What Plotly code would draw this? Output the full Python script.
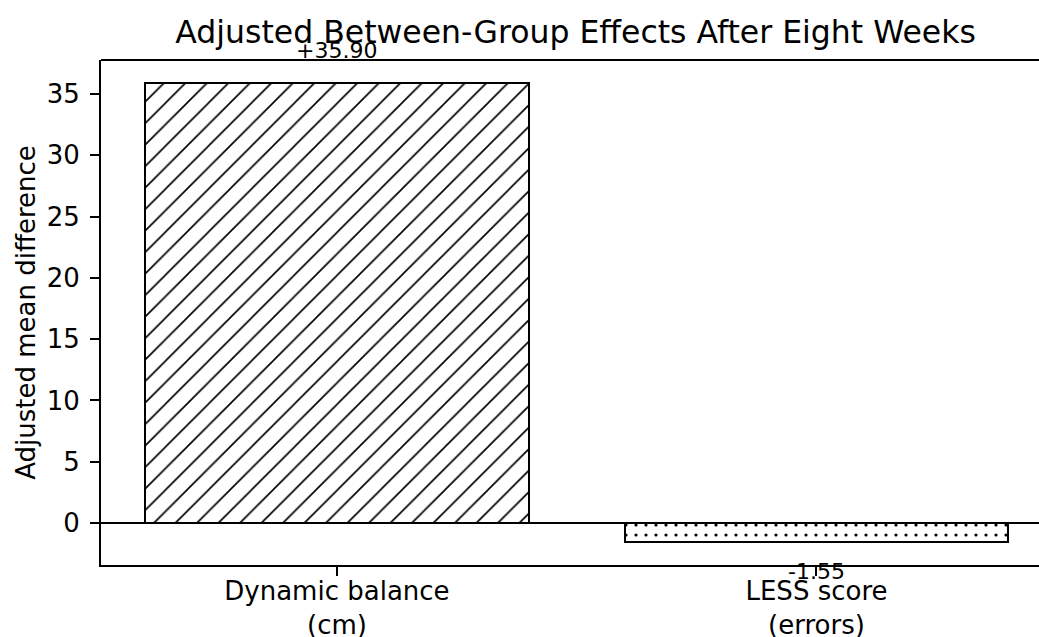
import plotly.graph_objects as go

# ---- data ----
categories = ["Dynamic balance<br>(cm)", "LESS score<br>(errors)"]
values = [35.90, -1.55]
value_labels = ["+35.90", "-1.55"]
hatches = ["/", "."]
y_ticks = [0, 5, 10, 15, 20, 25, 30, 35]
title_text = "Adjusted Between-Group Effects After Eight Weeks"
y_title = "Adjusted mean difference"

FONT = "DejaVu Sans"
x_pos = list(range(len(categories)))

fig = go.Figure()
for i, (v, h) in enumerate(zip(values, hatches)):
    fig.add_trace(go.Bar(
        x=[x_pos[i]], y=[v], width=0.8,
        marker=dict(
            color="white",
            line=dict(color="black", width=2),
            pattern=dict(shape=h, fgcolor="black", bgcolor="white", fgopacity=1,
                         fillmode="replace",
                         size=15.2 if h == "/" else 10,
                         solidity=0.11 if h == "/" else 0.08),
        ),
        showlegend=False, hoverinfo="skip",
    ))

# value labels anchored at each bar's end, shifted in pixels
for i, (v, t) in enumerate(zip(values, value_labels)):
    fig.add_annotation(x=x_pos[i], y=v, text=t, showarrow=False,
                       xanchor="center", yanchor="middle",
                       yshift=32 if v >= 0 else -29,
                       font=dict(family=FONT, size=22, color="black"))

# top spine
fig.add_shape(type="line", xref="paper", yref="paper", x0=0, x1=1, y0=1, y1=1,
              line=dict(color="black", width=2))

fig.update_layout(
    width=1039, height=637, autosize=False,
    margin=dict(l=101, r=0, t=60, b=72, pad=0),
    paper_bgcolor="white", plot_bgcolor="white",
    font=dict(family=FONT, size=26, color="black"),
    title=dict(text=title_text, font=dict(family=FONT, size=31.5, color="black"),
               x=0.506, xref="paper", xanchor="center",
               y=1 - 31.5 / 637, yref="container", yanchor="middle"),
    bargap=0,
)
fig.update_xaxes(
    range=[-0.492, 1.464], tickmode="array", tickvals=x_pos, ticktext=categories,
    showline=True, linecolor="black", linewidth=2, mirror=False,
    ticks="outside", ticklen=9, tickwidth=2, tickcolor="black",
    showgrid=False, zeroline=False, automargin=False,
    tickfont=dict(family=FONT, size=26, color="black"),
    ticklabelstandoff=-7,
)
fig.update_yaxes(
    range=[-3.42, 37.77], tickmode="array", tickvals=y_ticks,
    showline=True, linecolor="black", linewidth=2, mirror=False,
    ticks="outside", ticklen=9, tickwidth=2, tickcolor="black",
    showgrid=False, zeroline=True, zerolinecolor="black", zerolinewidth=1.7,
    automargin=False,
    tickfont=dict(family=FONT, size=26, color="black"),
    ticklabelstandoff=5,
    title=dict(text=y_title, font=dict(family=FONT, size=26, color="black"), standoff=4),
)

fig.write_html("out.html", config={"displayModeBar": False},
               post_script="document.body.style.margin='0';document.body.style.overflow='hidden';")
